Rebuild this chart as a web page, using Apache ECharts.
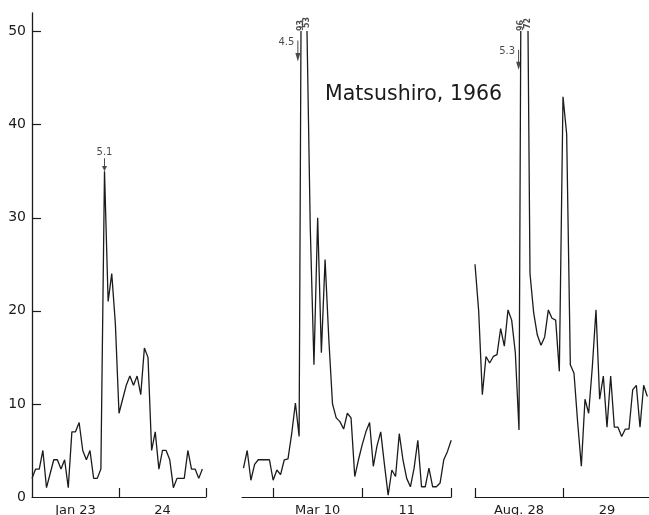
<!DOCTYPE html>
<html><head><meta charset="utf-8">
<script src="https://cdn.jsdelivr.net/npm/echarts@6/dist/echarts.min.js"></script>
<style>html,body{margin:0;padding:0;background:#fff}#c{width:649px;height:515px}</style>
</head><body><div id="c"></div>
<script>
// ---- data (hourly counts) ----
const yTicks = [0, 10, 20, 30, 40, 50];
const janDays = ['Jan 23', '24'];
const marDays = ['Mar 10', '11'];
const augDays = ['Aug. 28', '29'];
const janStartHour = 0;
const marStartHour = -8;
const augStartHour = 0;
const janCounts = [2,3,3,5,1,2.5,4,4,3,4,1,7,7,8,5,4,5,2,2,3,35,21,24,18.6,9,10.5,12,13,12,13,11,16,15,5,7,3,5,5,4,1,2,2,2,5,3,3,2,3];
const marCounts = [3.1,5,1.8,3.5,4,4,4,4,1.8,2.9,2.4,4,4.1,6.8,10.1,6.5,93,53,29,14.2,30,15.5,25.5,17,10,8.5,8.1,7.3,9,8.5,2.2,4,5.6,7,8,3.3,5.5,7,3.5,0.2,2.9,2.2,6.8,4,2,1.1,3.1,6.1,1.1,1.1,3.1,1.1,1.1,1.5,4,4.9,6.1];
const augCounts = [25,20,11,15.1,14.4,15.1,15.3,18.1,16.2,20.1,19,15.5,7.2,96,72,24,19.8,17.4,16.3,17.2,20.1,19.2,19,13.5,43,39,14.2,13.3,8,3.3,10.5,9,14,20.1,10.5,13,7.5,13,7.5,7.5,6.5,7.3,7.3,11.5,12,7.5,12,10.8];
// main shocks: index of peak, magnitude, arrow tip value
const janShock = { peak: 20, mag: '5.1' };
const marShock = { peak: 16, second: 17, mag: '4.5', tip: 46.8 };
const augShock = { peak: 13, second: 14, mag: '5.3', tip: 45.9 };
const title = 'Matsushiro, 1966';

// ---- helpers ----
const INK = '#1b1b1b';
const FONT = 'DejaVu Sans';
const toPts = (start, arr) => arr.map((v, i) => [start + i, v]);
const ARROW = 'path://M4.2,0 L5.8,0 L5.8,12 L9,12 L5,20 L1,12 L4.2,12 Z';
const CAP = 50;
function upCross(start, arr, p, level) {
  const a = arr[p - 1], b = arr[p];
  return start + p - 1 + (level - a) / (b - a);
}
function downCross(start, arr, q, level) {
  const a = arr[q], b = arr[q + 1];
  return start + q + (a - level) / (a - b);
}
function peakLabel(x, text, dx) {
  return {
    value: [x, CAP], symbol: 'circle', symbolSize: 1,
    itemStyle: { color: 'rgba(0,0,0,0)' },
    label: { show: true, formatter: text, position: 'top', distance: 3, rotate: 90,
      align: 'left', verticalAlign: 'middle', fontSize: 8, fontWeight: 'bold',
      color: INK, fontFamily: FONT, offset: [dx, 0] }
  };
}
function shockArrow(x, y, text, h, dx) {
  return {
    value: [x, y], symbol: ARROW, symbolSize: [5, h], symbolOffset: [dx, '-50%'],
    itemStyle: { color: INK },
    label: { show: true, formatter: text, position: [-1, -3], align: 'right',
      verticalAlign: 'top', fontSize: 10, color: INK, fontFamily: FONT }
  };
}

const panels = [
  { days: janDays, start: janStartHour, counts: janCounts, min: 0, max: 48, ticks: [24, 48],
    grid: { left: 32, top: 13, width: 174, height: 484 }, ymax: 52 },
  { days: marDays, start: marStartHour, counts: marCounts, min: -8.4, max: 48, ticks: [0, 24, 48],
    grid: { left: 242, top: 31.6, width: 209.2, height: 465.4 }, ymax: 50 },
  { days: augDays, start: augStartHour, counts: augCounts, min: 0, max: 48, ticks: [0, 24, 48],
    grid: { left: 475, top: 31.6, width: 176, height: 465.4 }, ymax: 50 }
];

const grid = panels.map(p => Object.assign({ containLabel: false, outerBoundsMode: 'none' }, p.grid));
const xAxis = panels.map((p, i) => ({
  type: 'value', gridIndex: i, min: p.min, max: p.max,
  axisLine: { show: true, onZero: false, lineStyle: { color: INK, width: 1.2 } },
  axisTick: { show: true, inside: true, length: 9, customValues: p.ticks, lineStyle: { color: INK, width: 1.2 } },
  axisLabel: { show: true, customValues: [12, 36], margin: 7, fontSize: 13, color: INK, fontFamily: FONT,
    formatter: v => p.days[Math.floor(v / 24)] },
  splitLine: { show: false }
}));
const yAxis = panels.map((p, i) => ({
  type: 'value', gridIndex: i, min: 0, max: p.ymax, show: i === 0,
  axisLine: { show: true, lineStyle: { color: INK, width: 1.3 } },
  axisTick: { show: true, inside: true, length: 9, customValues: yTicks.slice(1), lineStyle: { color: INK, width: 1.2 } },
  axisLabel: { show: true, customValues: yTicks, margin: 6, fontSize: 14, color: INK, fontFamily: FONT },
  splitLine: { show: false }
}));

const series = panels.map((p, i) => ({
  type: 'line', xAxisIndex: i, yAxisIndex: i, data: toPts(p.start, p.counts),
  showSymbol: false, symbol: 'none', clip: true, animation: false,
  lineStyle: { color: INK, width: 1.3 }
}));

// annotations
series.push({
  type: 'scatter', xAxisIndex: 0, yAxisIndex: 0, clip: false, animation: false, z: 5,
  data: [Object.assign(shockArrow(janStartHour + janShock.peak, janCounts[janShock.peak], janShock.mag, 13, 0),
    { label: { show: true, formatter: janShock.mag, position: 'top', distance: 1, fontSize: 10, color: INK, fontFamily: FONT } })]
});
series.push({
  type: 'scatter', xAxisIndex: 1, yAxisIndex: 1, clip: false, animation: false, z: 5,
  data: [
    shockArrow(upCross(marStartHour, marCounts, marShock.peak, marShock.tip), marShock.tip, marShock.mag, 21, -3),
    peakLabel(upCross(marStartHour, marCounts, marShock.peak, CAP), String(marCounts[marShock.peak]), -3),
    peakLabel(downCross(marStartHour, marCounts, marShock.second, CAP), String(marCounts[marShock.second]), 0)
  ]
});
series.push({
  type: 'scatter', xAxisIndex: 2, yAxisIndex: 2, clip: false, animation: false, z: 5,
  data: [
    shockArrow(upCross(augStartHour, augCounts, augShock.peak, augShock.tip), augShock.tip, augShock.mag, 20, -2),
    peakLabel(upCross(augStartHour, augCounts, augShock.peak, CAP), String(augCounts[augShock.peak]), -3),
    peakLabel(downCross(augStartHour, augCounts, augShock.second, CAP), String(augCounts[augShock.second]), -1)
  ]
});

const chart = echarts.init(document.getElementById('c'), null, { renderer: 'canvas' });
chart.setOption({
  animation: false,
  backgroundColor: '#fff',
  title: { text: title, left: 325, top: 84, padding: 0,
    textStyle: { fontSize: 20.5, fontWeight: 'normal', color: INK, fontFamily: FONT } },
  grid, xAxis, yAxis, series
});
</script></body></html>
